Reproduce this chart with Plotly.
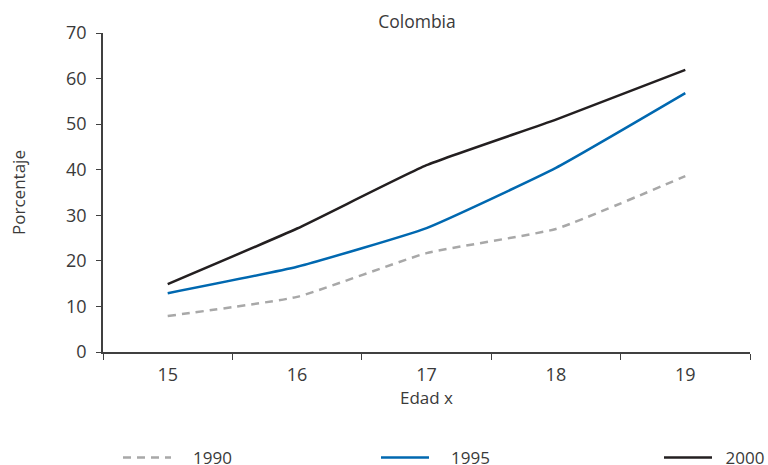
import plotly.graph_objects as go

ages = ["15", "16", "17", "18", "19"]
y1990 = [7.9, 12.1, 21.7, 27.0, 38.6]
y1995 = [12.9, 18.7, 27.2, 40.4, 56.8]
y2000 = [14.9, 27.1, 41.0, 51.0, 61.9]
y_ticks = [0, 10, 20, 30, 40, 50, 60, 70]
series_names = ["1990", "1995", "2000"]

FONT = "Open Sans"
TXT = "#3a3a3a"
PAD2 = "\u2002\u2002"  # visual gap between legend sample and label
PAD1 = "\u2002"

fig = go.Figure()
fig.add_trace(go.Scatter(x=ages, y=y1990, mode="lines", name=PAD2 + series_names[0],
                         line=dict(color="#a8a8a8", width=2.5, dash="8px,6px", shape="spline", smoothing=0.4),
                         legend="legend"))
fig.add_trace(go.Scatter(x=ages, y=y1995, mode="lines", name=PAD2 + series_names[1],
                         line=dict(color="#0068b0", width=2.5, shape="spline", smoothing=0.4),
                         legend="legend2"))
fig.add_trace(go.Scatter(x=ages, y=y2000, mode="lines", name=PAD1 + series_names[2],
                         line=dict(color="#231f20", width=2.5, shape="spline", smoothing=0.4),
                         legend="legend3"))

PB = 352
PH = 352 - 33
PW = 750 - 103
leg_y = (PB - 458) / PH
leg_common = dict(orientation="h", xref="paper", yref="paper", yanchor="middle",
                  y=leg_y, xanchor="left", bgcolor="rgba(0,0,0,0)", itemwidth=48,
                  font=dict(family=FONT, size=17, color=TXT))

fig.update_layout(
    width=768, height=465,
    margin=dict(l=103, r=768 - 750, t=33, b=465 - 352, autoexpand=False),
    paper_bgcolor="white", plot_bgcolor="white",
    font=dict(family=FONT, size=17, color=TXT),
    title=dict(text="Colombia", x=417 / 768, xref="container", xanchor="center",
               y=1 - 22 / 465, yref="container", yanchor="middle",
               font=dict(family=FONT, size=17.5, color=TXT)),
    xaxis=dict(type="category", range=[-0.5, 4.5], tickson="boundaries", ticks="outside",
               ticklen=6, tickcolor="#404040", showline=True, linecolor="#404040", linewidth=1.5,
               showgrid=False, zeroline=False, ticklabelstandoff=6, automargin=False,
               tickfont=dict(family=FONT, size=18, color=TXT),
               title=dict(text="Edad x", standoff=7, font=dict(family=FONT, size=17, color=TXT))),
    yaxis=dict(range=[0, 70], tickvals=y_ticks, ticks="outside", ticklen=5, tickcolor="#404040",
               showline=True, linecolor="#404040", linewidth=1.5, showgrid=False, zeroline=False,
               ticklabelstandoff=6, automargin=False,
               tickfont=dict(family=FONT, size=18, color=TXT),
               title=dict(text="Porcentaje", standoff=36, font=dict(family=FONT, size=17, color=TXT))),
    legend=dict(x=(124 - 6 - 103) / PW, **leg_common),
    legend2=dict(x=(382 - 6 - 103) / PW, **leg_common),
    legend3=dict(x=(665 - 6 - 103) / PW, **leg_common),
    showlegend=True,
    hovermode=False,
)

fig.write_html("out.html", config={"displayModeBar": False},
               post_script="document.body.style.margin='0';document.body.style.overflow='hidden';")
